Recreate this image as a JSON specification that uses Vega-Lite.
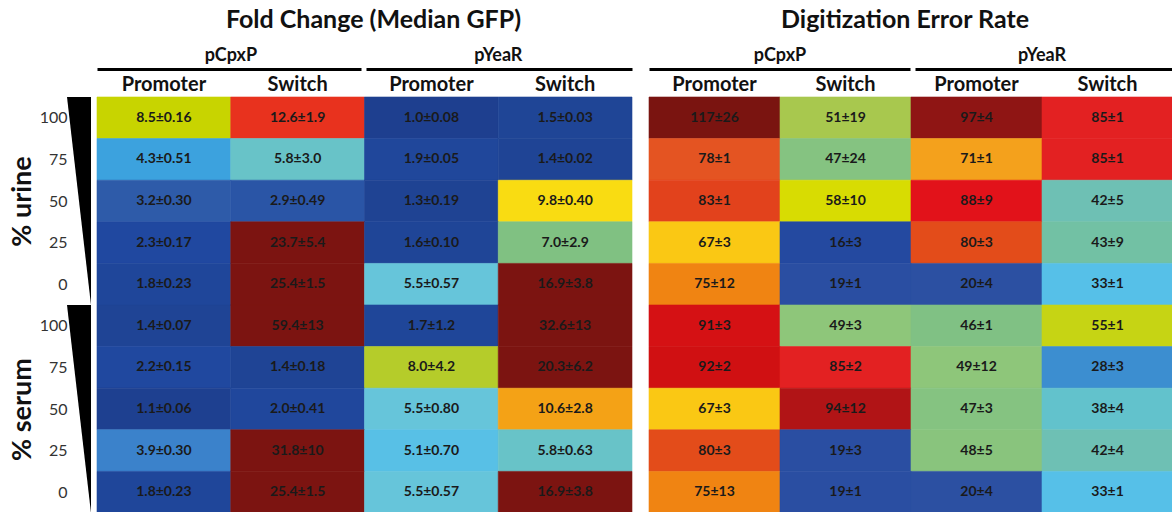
{
  "$schema": "https://vega.github.io/schema/vega-lite/v6.json",
  "background": "white",
  "padding": {"left": 8, "top": 8, "right": 0, "bottom": 0},
  "config": {
    "view": {"stroke": null},
    "font": "Lato",
    "axis": {"grid": false, "ticks": false, "domain": false, "labelFont": "Lato", "titleFont": "Lato", "labelFlush": false, "labelOverlap": false},
    "title": {"font": "Lato", "fontWeight": "bold", "fontSize": 25, "color": "#111111"}
  },
  "datasets": {
    "wedge": [
      {"fluid": "urine", "pct": 100}, {"fluid": "urine", "pct": 0},
      {"fluid": "serum", "pct": 100}, {"fluid": "serum", "pct": 0}
    ],
    "cells": [
      {"m": "fold", "row": "urine 100", "col": "pCpxP Promoter", "value": 8.5, "label": "8.5±0.16"},
      {"m": "fold", "row": "urine 100", "col": "pCpxP Switch", "value": 12.6, "label": "12.6±1.9"},
      {"m": "fold", "row": "urine 100", "col": "pYeaR Promoter", "value": 1.0, "label": "1.0±0.08"},
      {"m": "fold", "row": "urine 100", "col": "pYeaR Switch", "value": 1.5, "label": "1.5±0.03"},
      {"m": "fold", "row": "urine 75", "col": "pCpxP Promoter", "value": 4.3, "label": "4.3±0.51"},
      {"m": "fold", "row": "urine 75", "col": "pCpxP Switch", "value": 5.8, "label": "5.8±3.0"},
      {"m": "fold", "row": "urine 75", "col": "pYeaR Promoter", "value": 1.9, "label": "1.9±0.05"},
      {"m": "fold", "row": "urine 75", "col": "pYeaR Switch", "value": 1.4, "label": "1.4±0.02"},
      {"m": "fold", "row": "urine 50", "col": "pCpxP Promoter", "value": 3.2, "label": "3.2±0.30"},
      {"m": "fold", "row": "urine 50", "col": "pCpxP Switch", "value": 2.9, "label": "2.9±0.49"},
      {"m": "fold", "row": "urine 50", "col": "pYeaR Promoter", "value": 1.3, "label": "1.3±0.19"},
      {"m": "fold", "row": "urine 50", "col": "pYeaR Switch", "value": 9.8, "label": "9.8±0.40"},
      {"m": "fold", "row": "urine 25", "col": "pCpxP Promoter", "value": 2.3, "label": "2.3±0.17"},
      {"m": "fold", "row": "urine 25", "col": "pCpxP Switch", "value": 23.7, "label": "23.7±5.4"},
      {"m": "fold", "row": "urine 25", "col": "pYeaR Promoter", "value": 1.6, "label": "1.6±0.10"},
      {"m": "fold", "row": "urine 25", "col": "pYeaR Switch", "value": 7.0, "label": "7.0±2.9"},
      {"m": "fold", "row": "urine 0", "col": "pCpxP Promoter", "value": 1.8, "label": "1.8±0.23"},
      {"m": "fold", "row": "urine 0", "col": "pCpxP Switch", "value": 25.4, "label": "25.4±1.5"},
      {"m": "fold", "row": "urine 0", "col": "pYeaR Promoter", "value": 5.5, "label": "5.5±0.57"},
      {"m": "fold", "row": "urine 0", "col": "pYeaR Switch", "value": 16.9, "label": "16.9±3.8"},
      {"m": "fold", "row": "serum 100", "col": "pCpxP Promoter", "value": 1.4, "label": "1.4±0.07"},
      {"m": "fold", "row": "serum 100", "col": "pCpxP Switch", "value": 59.4, "label": "59.4±13"},
      {"m": "fold", "row": "serum 100", "col": "pYeaR Promoter", "value": 1.7, "label": "1.7±1.2"},
      {"m": "fold", "row": "serum 100", "col": "pYeaR Switch", "value": 32.6, "label": "32.6±13"},
      {"m": "fold", "row": "serum 75", "col": "pCpxP Promoter", "value": 2.2, "label": "2.2±0.15"},
      {"m": "fold", "row": "serum 75", "col": "pCpxP Switch", "value": 1.4, "label": "1.4±0.18"},
      {"m": "fold", "row": "serum 75", "col": "pYeaR Promoter", "value": 8.0, "label": "8.0±4.2"},
      {"m": "fold", "row": "serum 75", "col": "pYeaR Switch", "value": 20.3, "label": "20.3±6.2"},
      {"m": "fold", "row": "serum 50", "col": "pCpxP Promoter", "value": 1.1, "label": "1.1±0.06"},
      {"m": "fold", "row": "serum 50", "col": "pCpxP Switch", "value": 2.0, "label": "2.0±0.41"},
      {"m": "fold", "row": "serum 50", "col": "pYeaR Promoter", "value": 5.5, "label": "5.5±0.80"},
      {"m": "fold", "row": "serum 50", "col": "pYeaR Switch", "value": 10.6, "label": "10.6±2.8"},
      {"m": "fold", "row": "serum 25", "col": "pCpxP Promoter", "value": 3.9, "label": "3.9±0.30"},
      {"m": "fold", "row": "serum 25", "col": "pCpxP Switch", "value": 31.8, "label": "31.8±10"},
      {"m": "fold", "row": "serum 25", "col": "pYeaR Promoter", "value": 5.1, "label": "5.1±0.70"},
      {"m": "fold", "row": "serum 25", "col": "pYeaR Switch", "value": 5.8, "label": "5.8±0.63"},
      {"m": "fold", "row": "serum 0", "col": "pCpxP Promoter", "value": 1.8, "label": "1.8±0.23"},
      {"m": "fold", "row": "serum 0", "col": "pCpxP Switch", "value": 25.4, "label": "25.4±1.5"},
      {"m": "fold", "row": "serum 0", "col": "pYeaR Promoter", "value": 5.5, "label": "5.5±0.57"},
      {"m": "fold", "row": "serum 0", "col": "pYeaR Switch", "value": 16.9, "label": "16.9±3.8"},
      {"m": "err", "row": "urine 100", "col": "pCpxP Promoter", "value": 117, "label": "117±26"},
      {"m": "err", "row": "urine 100", "col": "pCpxP Switch", "value": 51, "label": "51±19"},
      {"m": "err", "row": "urine 100", "col": "pYeaR Promoter", "value": 97, "label": "97±4"},
      {"m": "err", "row": "urine 100", "col": "pYeaR Switch", "value": 85, "label": "85±1"},
      {"m": "err", "row": "urine 75", "col": "pCpxP Promoter", "value": 78, "label": "78±1"},
      {"m": "err", "row": "urine 75", "col": "pCpxP Switch", "value": 47, "label": "47±24"},
      {"m": "err", "row": "urine 75", "col": "pYeaR Promoter", "value": 71, "label": "71±1"},
      {"m": "err", "row": "urine 75", "col": "pYeaR Switch", "value": 85, "label": "85±1"},
      {"m": "err", "row": "urine 50", "col": "pCpxP Promoter", "value": 83, "label": "83±1"},
      {"m": "err", "row": "urine 50", "col": "pCpxP Switch", "value": 58, "label": "58±10"},
      {"m": "err", "row": "urine 50", "col": "pYeaR Promoter", "value": 88, "label": "88±9"},
      {"m": "err", "row": "urine 50", "col": "pYeaR Switch", "value": 42, "label": "42±5"},
      {"m": "err", "row": "urine 25", "col": "pCpxP Promoter", "value": 67, "label": "67±3"},
      {"m": "err", "row": "urine 25", "col": "pCpxP Switch", "value": 16, "label": "16±3"},
      {"m": "err", "row": "urine 25", "col": "pYeaR Promoter", "value": 80, "label": "80±3"},
      {"m": "err", "row": "urine 25", "col": "pYeaR Switch", "value": 43, "label": "43±9"},
      {"m": "err", "row": "urine 0", "col": "pCpxP Promoter", "value": 75, "label": "75±12"},
      {"m": "err", "row": "urine 0", "col": "pCpxP Switch", "value": 19, "label": "19±1"},
      {"m": "err", "row": "urine 0", "col": "pYeaR Promoter", "value": 20, "label": "20±4"},
      {"m": "err", "row": "urine 0", "col": "pYeaR Switch", "value": 33, "label": "33±1"},
      {"m": "err", "row": "serum 100", "col": "pCpxP Promoter", "value": 91, "label": "91±3"},
      {"m": "err", "row": "serum 100", "col": "pCpxP Switch", "value": 49, "label": "49±3"},
      {"m": "err", "row": "serum 100", "col": "pYeaR Promoter", "value": 46, "label": "46±1"},
      {"m": "err", "row": "serum 100", "col": "pYeaR Switch", "value": 55, "label": "55±1"},
      {"m": "err", "row": "serum 75", "col": "pCpxP Promoter", "value": 92, "label": "92±2"},
      {"m": "err", "row": "serum 75", "col": "pCpxP Switch", "value": 85, "label": "85±2"},
      {"m": "err", "row": "serum 75", "col": "pYeaR Promoter", "value": 49, "label": "49±12"},
      {"m": "err", "row": "serum 75", "col": "pYeaR Switch", "value": 28, "label": "28±3"},
      {"m": "err", "row": "serum 50", "col": "pCpxP Promoter", "value": 67, "label": "67±3"},
      {"m": "err", "row": "serum 50", "col": "pCpxP Switch", "value": 94, "label": "94±12"},
      {"m": "err", "row": "serum 50", "col": "pYeaR Promoter", "value": 47, "label": "47±3"},
      {"m": "err", "row": "serum 50", "col": "pYeaR Switch", "value": 38, "label": "38±4"},
      {"m": "err", "row": "serum 25", "col": "pCpxP Promoter", "value": 80, "label": "80±3"},
      {"m": "err", "row": "serum 25", "col": "pCpxP Switch", "value": 19, "label": "19±3"},
      {"m": "err", "row": "serum 25", "col": "pYeaR Promoter", "value": 48, "label": "48±5"},
      {"m": "err", "row": "serum 25", "col": "pYeaR Switch", "value": 42, "label": "42±4"},
      {"m": "err", "row": "serum 0", "col": "pCpxP Promoter", "value": 75, "label": "75±13"},
      {"m": "err", "row": "serum 0", "col": "pCpxP Switch", "value": 19, "label": "19±1"},
      {"m": "err", "row": "serum 0", "col": "pYeaR Promoter", "value": 20, "label": "20±4"},
      {"m": "err", "row": "serum 0", "col": "pYeaR Switch", "value": 33, "label": "33±1"}
    ]
  },
  "resolve": {"scale": {"color": "independent", "stroke": "independent"}},
  "spacing": 5,
  "hconcat": [
    {
      "width": 24,
      "height": 416,
      "data": {"name": "wedge"},
      "layer": [
        {
          "transform": [{"filter": "datum.fluid === 'urine'"}],
          "mark": {"type": "area", "orient": "horizontal", "color": "black"},
          "encoding": {
            "y": {"field": "pct", "type": "quantitative", "scale": {"domain": [-100, 100], "nice": false, "zero": false},
              "axis": {"orient": "left", "title": null, "values": [90, 70, 50, 30, 10, -10, -30, -50, -70, -90],
                "labelExpr": "format(datum.value > 0 ? (datum.value - 10) * 1.25 : (datum.value + 90) * 1.25, 'd')",
                "labelPadding": 0, "labelFontSize": 16, "labelColor": "#333333", "labelFont": "Lato"}},
            "x": {"field": "pct", "type": "quantitative", "scale": {"domain": [0, 100], "reverse": true, "nice": false}, "axis": null},
            "x2": {"datum": 0}
          }
        },
        {
          "transform": [{"filter": "datum.fluid === 'serum'"}],
          "mark": {"type": "area", "orient": "horizontal", "color": "black"},
          "encoding": {
            "y": {"field": "pct", "type": "quantitative", "scale": {"domain": [0, 200], "nice": false, "zero": false},
              "axis": {"orient": "left", "title": null, "values": [150, 50],
                "labelExpr": "datum.value > 100 ? '% urine' : '% serum'",
                "labelAngle": -90, "labelAlign": "center", "labelBaseline": "bottom", "labelPadding": 31,
                "labelFontSize": 27, "labelFontWeight": "bold", "labelColor": "#111111", "labelFont": "Lato"}},
            "x": {"field": "pct", "type": "quantitative", "scale": {"domain": [0, 100], "reverse": true, "nice": false}, "axis": null},
            "x2": {"datum": 0}
          }
        }
      ],
      "resolve": {"scale": {"y": "independent"}, "axis": {"y": "independent"}}
    },
    {
      "width": 535,
      "height": 416,
      "title": {"text": "Fold Change (Median GFP)", "anchor": "middle", "frame": "group", "dx": 9, "offset": 13},
      "data": {"name": "cells"},
      "transform": [{"filter": "datum.m === 'fold'"}],
      "encoding": {
        "y": {"field": "row", "type": "nominal", "scale": {"domain": ["urine 100", "urine 75", "urine 50", "urine 25", "urine 0", "serum 100", "serum 75", "serum 50", "serum 25", "serum 0"], "paddingInner": 0, "paddingOuter": 0}, "axis": null}
      },
      "layer": [
        {
          "mark": {"type": "rect", "strokeWidth": 0.6},
          "encoding": {
            "x": {"field": "col", "type": "nominal", "scale": {"domain": ["pCpxP Promoter", "pCpxP Switch", "pYeaR Promoter", "pYeaR Switch"], "paddingInner": 0, "paddingOuter": 0},
              "axis": {"orient": "top", "title": null, "labelExpr": "split(datum.label, ' ')[1]", "labelPadding": 3, "labelFontSize": 20, "labelFontWeight": "bold", "labelColor": "#111111", "labelAngle": 0}},
            "color": {"field": "value", "type": "quantitative", "legend": null,
              "scale": {"type": "linear", "clamp": true, "interpolate": "rgb",
                "domain": [1.0, 1.5, 2.3, 2.9, 3.2, 3.9, 4.3, 5.1, 5.5, 5.8, 7.0, 8.0, 8.5, 9.8, 10.6, 12.6, 16.9],
                "range": ["#1e3f8f", "#1f4596", "#2048a0", "#2a55a6", "#2e5ba9", "#3b82cb", "#3ca2de", "#58c0e6", "#66c5da", "#68c3c8", "#80c182", "#b5cc2a", "#c8d400", "#f9dc12", "#f4a216", "#e8321e", "#7c1411"]}},
            "stroke": {"field": "value", "type": "quantitative", "legend": null,
              "scale": {"type": "linear", "clamp": true, "interpolate": "rgb",
                "domain": [1.0, 1.5, 2.3, 2.9, 3.2, 3.9, 4.3, 5.1, 5.5, 5.8, 7.0, 8.0, 8.5, 9.8, 10.6, 12.6, 16.9],
                "range": ["#1e3f8f", "#1f4596", "#2048a0", "#2a55a6", "#2e5ba9", "#3b82cb", "#3ca2de", "#58c0e6", "#66c5da", "#68c3c8", "#80c182", "#b5cc2a", "#c8d400", "#f9dc12", "#f4a216", "#e8321e", "#7c1411"]}}
          }
        },
        {
          "mark": {"type": "text", "font": "Lato", "fontSize": 14, "fontWeight": "bold", "color": "#1a1a1a"},
          "encoding": {
            "x": {"field": "col", "type": "nominal",
              "axis": {"orient": "top", "title": null, "offset": 28, "labelOffset": 67,
                "labelExpr": "indexof(datum.label, 'Promoter') > 0 ? split(datum.label, ' ')[0] : ''",
                "domain": true, "domainWidth": 3, "domainColor": "black", "domainDash": [264, 5, 400],
                "labelPadding": 5, "labelFontSize": 18, "labelFontWeight": "bold", "labelColor": "#111111", "labelAngle": 0}},
            "text": {"field": "label"}
          }
        }
      ],
      "resolve": {"axis": {"x": "independent"}}
    },
    {
      "width": 524,
      "height": 416,
      "title": {"text": "Digitization Error Rate", "anchor": "middle", "frame": "group", "dx": -6, "offset": 13},
      "data": {"name": "cells"},
      "transform": [{"filter": "datum.m === 'err'"}],
      "encoding": {
        "y": {"field": "row", "type": "nominal", "scale": {"domain": ["urine 100", "urine 75", "urine 50", "urine 25", "urine 0", "serum 100", "serum 75", "serum 50", "serum 25", "serum 0"], "paddingInner": 0, "paddingOuter": 0},
          "axis": {"title": null, "labels": false, "ticks": false, "domain": false, "minExtent": 11, "maxExtent": 11}}
      },
      "layer": [
        {
          "mark": {"type": "rect", "strokeWidth": 0.6},
          "encoding": {
            "x": {"field": "col", "type": "nominal", "scale": {"domain": ["pCpxP Promoter", "pCpxP Switch", "pYeaR Promoter", "pYeaR Switch"], "paddingInner": 0, "paddingOuter": 0},
              "axis": {"orient": "top", "title": null, "labelExpr": "split(datum.label, ' ')[1]", "labelPadding": 3, "labelFontSize": 20, "labelFontWeight": "bold", "labelColor": "#111111", "labelAngle": 0}},
            "color": {"field": "value", "type": "quantitative", "legend": null,
              "scale": {"type": "linear", "clamp": true, "interpolate": "rgb",
                "domain": [16, 20, 28, 33, 38, 42, 43, 46, 49, 51, 55, 58, 67, 71, 75, 78, 80, 83, 85, 88, 92, 94, 97, 117],
                "range": ["#2449a0", "#2c50a2", "#3c8ed0", "#56c0e8", "#62c2cc", "#6ec0b4", "#72c1a4", "#80c184", "#8ec67a", "#a8c84e", "#c6d414", "#d8dc02", "#fac814", "#f4a11c", "#f08412", "#e45422", "#e34c1a", "#e2421c", "#e32122", "#e2121a", "#d01012", "#b11416", "#8f1514", "#7a1410"]}},
            "stroke": {"field": "value", "type": "quantitative", "legend": null,
              "scale": {"type": "linear", "clamp": true, "interpolate": "rgb",
                "domain": [16, 20, 28, 33, 38, 42, 43, 46, 49, 51, 55, 58, 67, 71, 75, 78, 80, 83, 85, 88, 92, 94, 97, 117],
                "range": ["#2449a0", "#2c50a2", "#3c8ed0", "#56c0e8", "#62c2cc", "#6ec0b4", "#72c1a4", "#80c184", "#8ec67a", "#a8c84e", "#c6d414", "#d8dc02", "#fac814", "#f4a11c", "#f08412", "#e45422", "#e34c1a", "#e2421c", "#e32122", "#e2121a", "#d01012", "#b11416", "#8f1514", "#7a1410"]}}
          }
        },
        {
          "mark": {"type": "text", "font": "Lato", "fontSize": 14, "fontWeight": "bold", "color": "#1a1a1a"},
          "encoding": {
            "x": {"field": "col", "type": "nominal",
              "axis": {"orient": "top", "title": null, "offset": 28, "labelOffset": 65.5,
                "labelExpr": "indexof(datum.label, 'Promoter') > 0 ? split(datum.label, ' ')[0] : ''",
                "domain": true, "domainWidth": 3, "domainColor": "black", "domainDash": [261, 5, 400],
                "labelPadding": 5, "labelFontSize": 18, "labelFontWeight": "bold", "labelColor": "#111111", "labelAngle": 0}},
            "text": {"field": "label"}
          }
        }
      ],
      "resolve": {"axis": {"x": "independent"}}
    }
  ]
}
